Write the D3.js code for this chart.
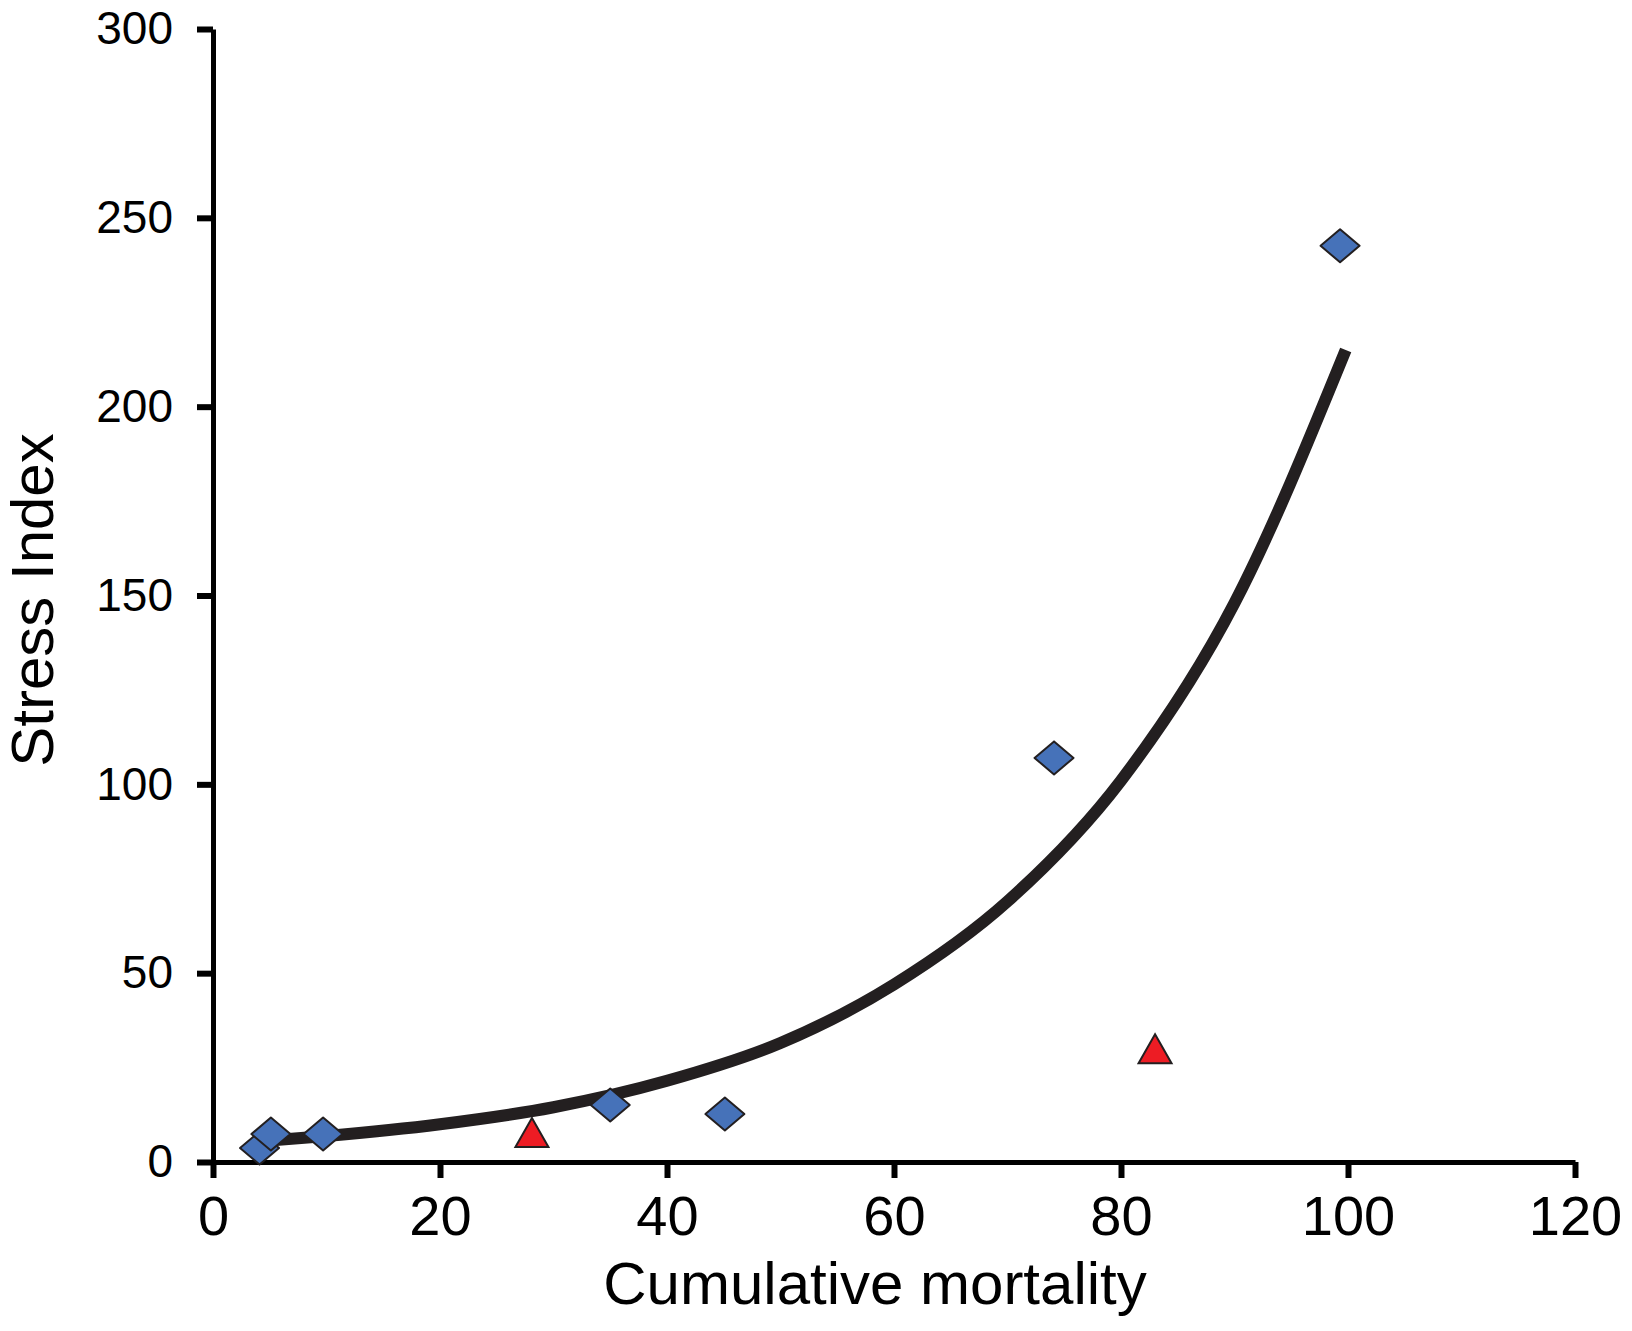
<!DOCTYPE html>
<html>
<head>
<meta charset="utf-8">
<script src="https://cdn.jsdelivr.net/npm/d3@7"></script>
<style>
	body { margin: 0; background: #fff; }
	text { font-family: "Liberation Sans", Arial, Helvetica, sans-serif; fill: #000; }
</style>
</head>
<body>
<svg id="viz"></svg>
<script>
// values
var diamondX = [4.1, 5.1, 9.7, 35.0, 45.1, 74.1, 99.3];
var diamondY = [3.7, 7.4, 7.4, 15.1, 12.7, 107, 242.6];

var triangleX = [28.1, 83.0];
var triangleY = [7.8, 30.0];

// trend curve, read at a handful of places along the drawn line
var curveX = [5, 10, 20, 30, 40, 50, 60, 70, 80, 90, 99.8];
var curveY = [5.7, 6.9, 10.0, 14.5, 21.5, 31.5, 47, 69, 101, 148, 215];

var xTicks = [0, 20, 40, 60, 80, 100, 120];
var yTicks = [0, 50, 100, 150, 200, 250, 300];

var xTitle = "Cumulative mortality",
	yTitle = "Stress Index";

var W = 1632, H = 1331;

var svg = d3.select('#viz')
	.attr('width', W)
	.attr('height', H);

var x = d3.scaleLinear()
	.domain([0, 120])
	.range([213, 1575]);

var y = d3.scaleLinear()
	.domain([0, 300])
	.range([1162, 29]);

var xAxis = d3.axisBottom(x)
	.tickValues(xTicks)
	.tickSize(16)
	.tickSizeOuter(0)
	.tickPadding(17);

var yAxis = d3.axisLeft(y)
	.tickValues(yTicks)
	.tickSize(16)
	.tickSizeOuter(0)
	.tickPadding(24);

var styleAxis = function(g, fontSize){
	g.select('.domain')
		.attr('stroke', '#000')
		.attr('stroke-width', 5);
	g.selectAll('.tick line')
		.attr('stroke', '#000')
		.attr('stroke-width', 6);
	g.selectAll('.tick text')
		.attr('font-size', fontSize)
		.attr('font-family', '"Liberation Sans", Arial, sans-serif')
		.attr('fill', '#000');
}

svg.append('g')
	.attr('transform', 'translate(0,' + y(0) + ')')
	.call(xAxis)
	.call(styleAxis, 56);

svg.append('g')
	.attr('transform', 'translate(' + x(0) + ',0)')
	.call(yAxis)
	.call(styleAxis, 46);

// trend line
var curvePts = curveX.map(function(d, i){ return [d, curveY[i]]; });

var line = d3.line()
	.x(function(d) { return x(d[0]); })
	.y(function(d) { return y(d[1]); })
	.curve(d3.curveMonotoneX);

svg.append('path')
	.datum(curvePts)
	.attr('d', line)
	.attr('fill', 'none')
	.attr('stroke', '#231f20')
	.attr('stroke-width', 12);

// markers
var diamond = function(cx, cy){
	var hw = 19.5, hh = 16.5;
	return 'M' + cx + ',' + (cy - hh) +
		'L' + (cx + hw) + ',' + cy +
		'L' + cx + ',' + (cy + hh) +
		'L' + (cx - hw) + ',' + cy + 'Z';
}

var triangle = function(cx, cy){
	var hw = 16.5, hh = 14.5;
	return 'M' + cx + ',' + (cy - hh) +
		'L' + (cx + hw) + ',' + (cy + hh) +
		'L' + (cx - hw) + ',' + (cy + hh) + 'Z';
}

svg.selectAll('.dia')
	.data(diamondX)
	.enter().append('path')
	.attr('class', 'dia')
	.attr('d', function(d, i) { return diamond(x(d), y(diamondY[i])); })
	.attr('fill', '#4672b9')
	.attr('stroke', '#231f20')
	.attr('stroke-width', 2)
	.attr('stroke-linejoin', 'round');

svg.selectAll('.tri')
	.data(triangleX)
	.enter().append('path')
	.attr('class', 'tri')
	.attr('d', function(d, i) { return triangle(x(d), y(triangleY[i])); })
	.attr('fill', '#ed1c24')
	.attr('stroke', '#231f20')
	.attr('stroke-width', 2);

// titles
svg.append('text')
	.attr('x', 875)
	.attr('y', 1304)
	.attr('text-anchor', 'middle')
	.attr('font-size', 60)
	.text(xTitle);

svg.append('text')
	.attr('transform', 'translate(53,600) rotate(-90)')
	.attr('text-anchor', 'middle')
	.attr('font-size', 60)
	.text(yTitle);
</script>
</body>
</html>
